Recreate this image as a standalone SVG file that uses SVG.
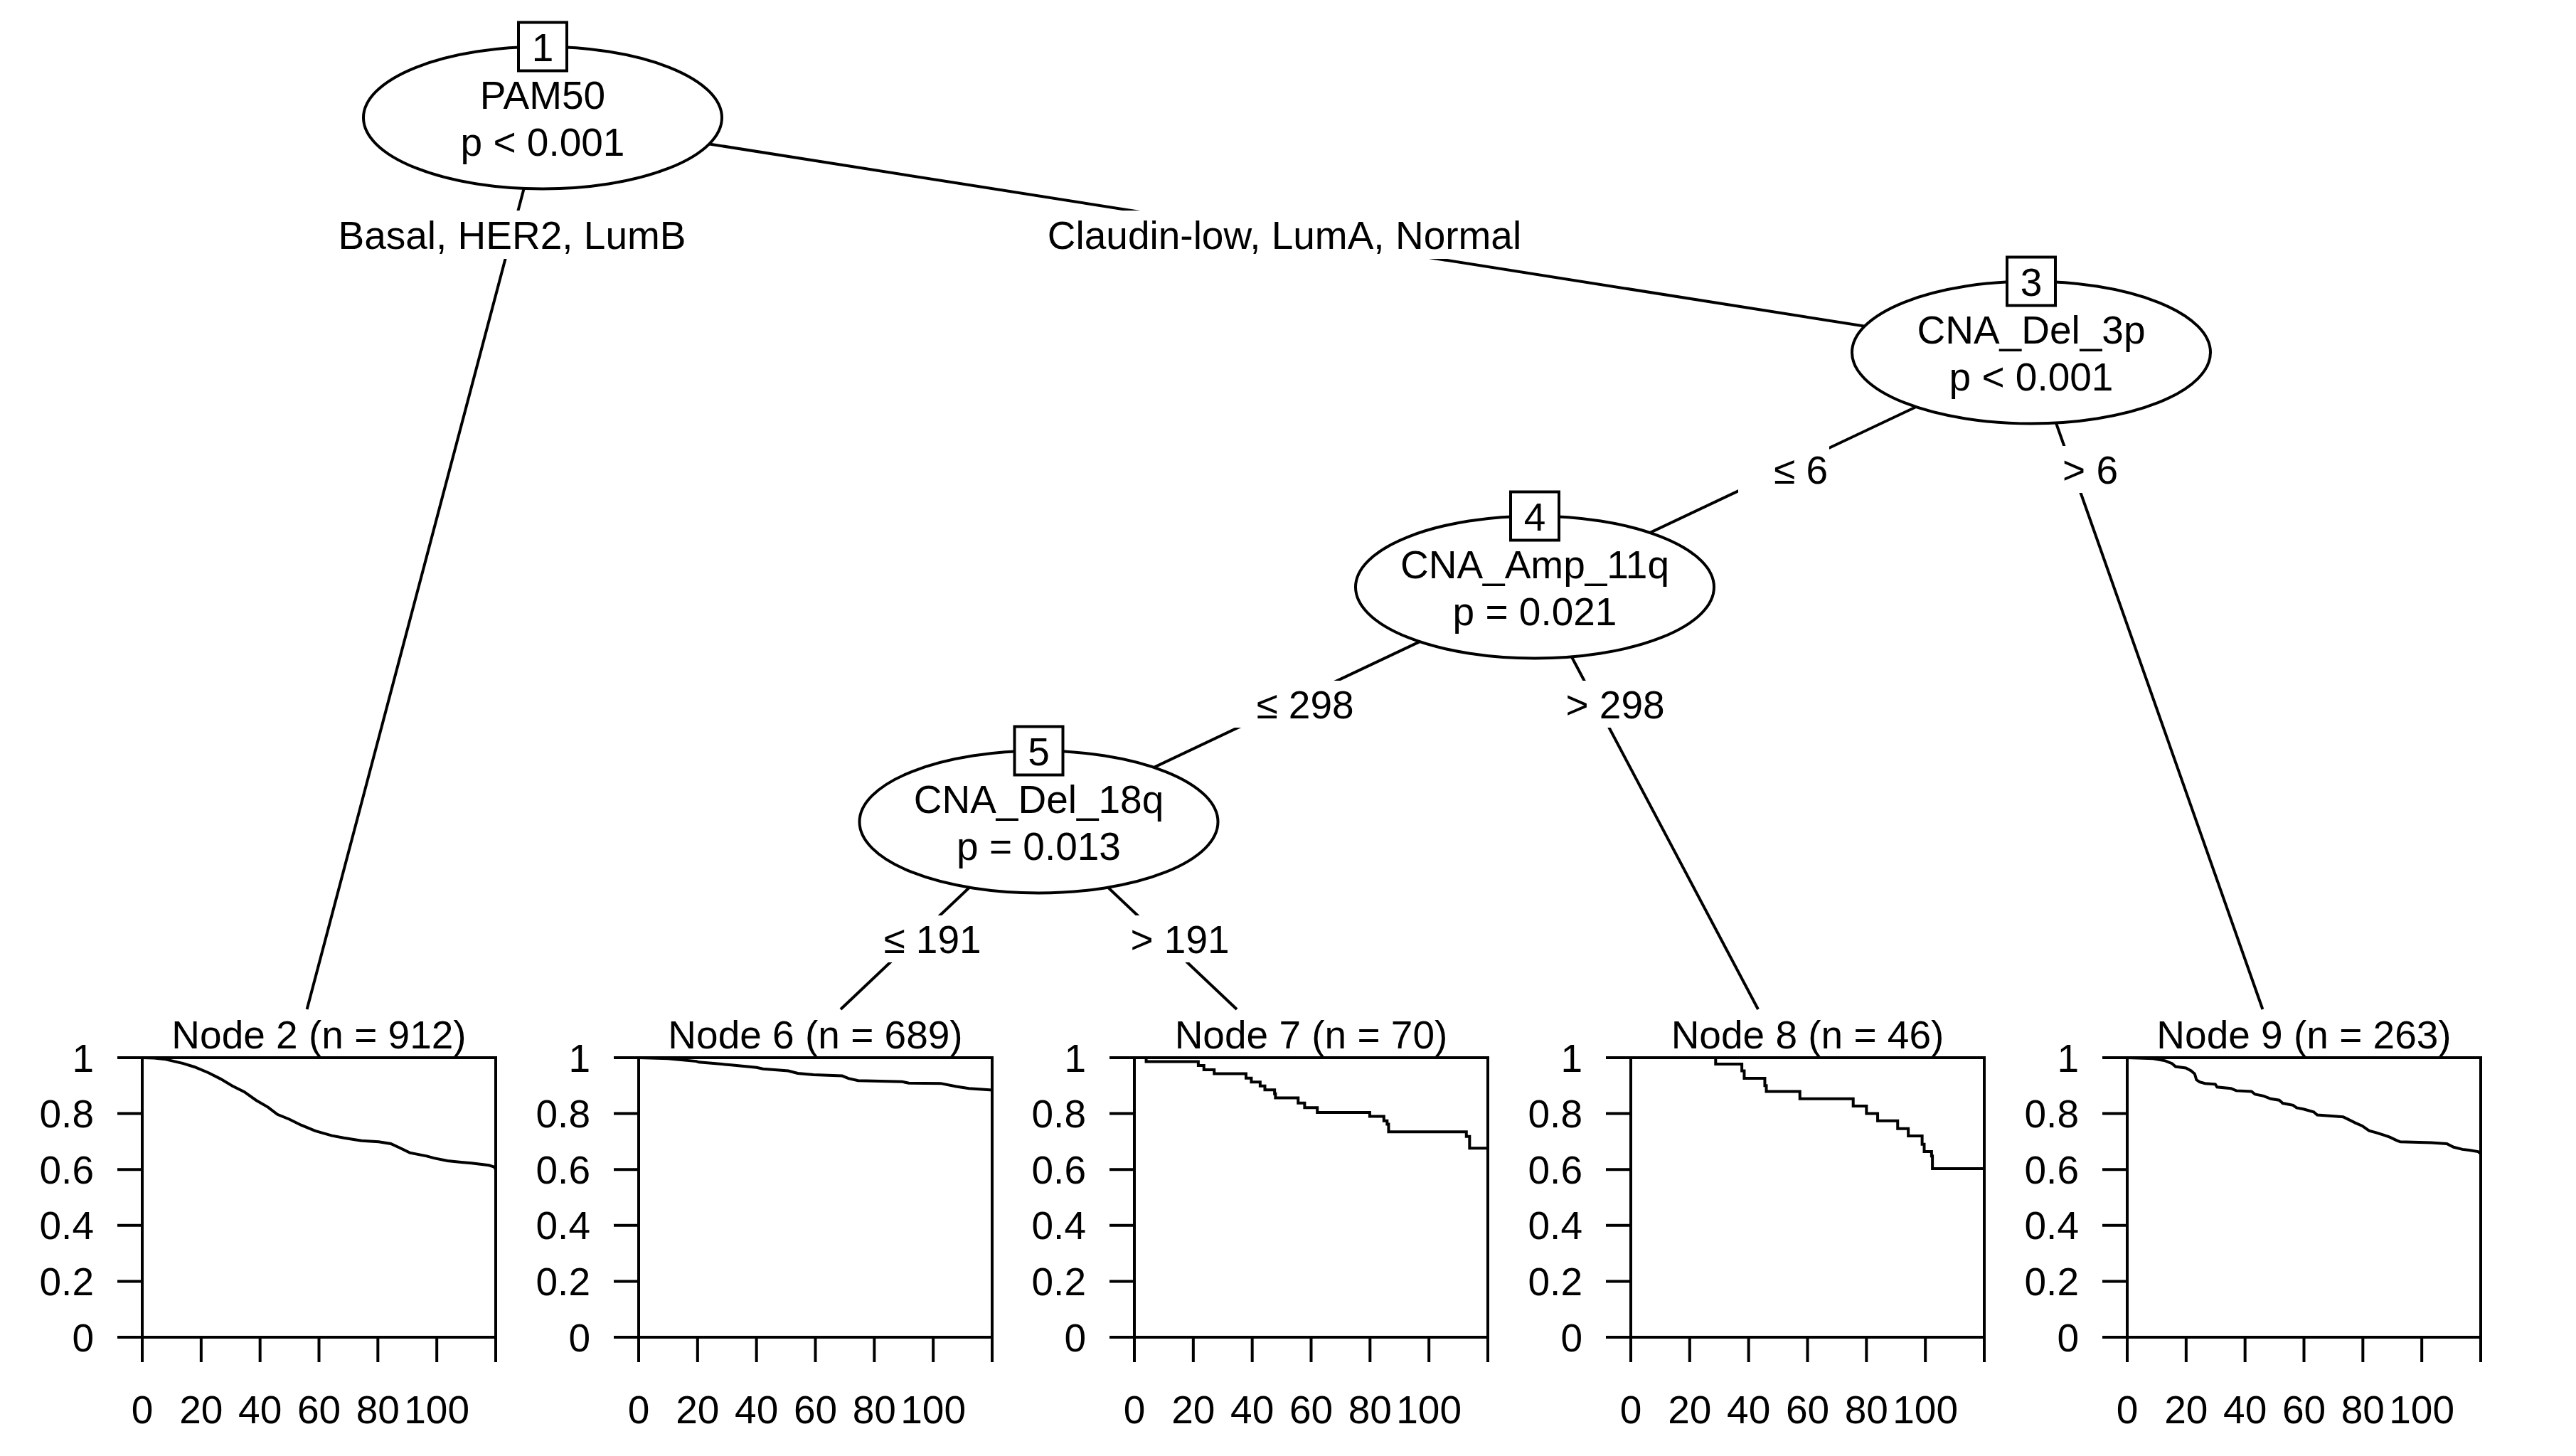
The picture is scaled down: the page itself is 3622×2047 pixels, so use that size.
<svg xmlns="http://www.w3.org/2000/svg" width="3622" height="2047" viewBox="0 0 3622 2047">
<style>
.ln{stroke:#000;stroke-width:4;fill:none}
.nd{stroke:#000;stroke-width:4;fill:#fff}
.lb{fill:#fff;stroke:none}
.t{font-family:"Liberation Sans",Arial,Helvetica,sans-serif;font-size:55px;fill:#000}
.m{text-anchor:middle}
.e{text-anchor:end}
.cv{stroke:#000;stroke-width:4;fill:none;stroke-linejoin:miter}
</style>
<rect width="3622" height="2047" fill="#fff"/>
<g id="connectors" class="ln">
<line x1="763" y1="165.5" x2="431.6" y2="1419"/>
<line x1="763" y1="165.5" x2="2856" y2="495.5"/>
<line x1="2856" y1="495.5" x2="2158" y2="825.5"/>
<line x1="2856" y1="495.5" x2="3181.4" y2="1419"/>
<line x1="2158" y1="825.5" x2="1460.5" y2="1155.5"/>
<line x1="2158" y1="825.5" x2="2472" y2="1419"/>
<line x1="1460.5" y1="1155.5" x2="1182" y2="1419"/>
<line x1="1460.5" y1="1155.5" x2="1739" y2="1419"/>
</g>
<g id="edge-labels">
<rect class="lb" x="475" y="296" width="490" height="68"/>
<text class="t m" x="720" y="349.5">Basal, HER2, LumB</text>
<rect class="lb" x="1471" y="296" width="670" height="68"/>
<text class="t m" x="1806" y="349.5">Claudin-low, LumA, Normal</text>
<rect class="lb" x="2444" y="627" width="128" height="66"/>
<text class="t m" x="2532" y="680">≤ 6</text>
<rect class="lb" x="2850" y="627" width="128" height="66"/>
<text class="t m" x="2939" y="680">&gt; 6</text>
<rect class="lb" x="1716" y="957" width="190" height="66"/>
<text class="t m" x="1835" y="1010">≤ 298</text>
<rect class="lb" x="2150" y="957" width="190" height="66"/>
<text class="t m" x="2271" y="1010">&gt; 298</text>
<rect class="lb" x="1192" y="1287" width="190" height="66"/>
<text class="t m" x="1311" y="1340">≤ 191</text>
<rect class="lb" x="1540" y="1287" width="190" height="66"/>
<text class="t m" x="1659" y="1340">&gt; 191</text>
</g>
<g id="node1">
<ellipse class="nd" cx="763" cy="165.5" rx="252" ry="100"/>
<rect class="nd" x="729" y="31.5" width="68" height="68"/>
<text class="t m" x="763" y="85.5">1</text>
<text class="t m" x="763" y="152.5">PAM50</text>
<text class="t m" x="763" y="219">p &lt; 0.001</text>
</g>
<g id="node3">
<ellipse class="nd" cx="2856" cy="495.5" rx="252" ry="100"/>
<rect class="nd" x="2822" y="361.5" width="68" height="68"/>
<text class="t m" x="2856" y="415.5">3</text>
<text class="t m" x="2856" y="482.5">CNA_Del_3p</text>
<text class="t m" x="2856" y="549">p &lt; 0.001</text>
</g>
<g id="node4">
<ellipse class="nd" cx="2158" cy="825.5" rx="252" ry="100"/>
<rect class="nd" x="2124" y="691.5" width="68" height="68"/>
<text class="t m" x="2158" y="745.5">4</text>
<text class="t m" x="2158" y="812.5">CNA_Amp_11q</text>
<text class="t m" x="2158" y="879">p = 0.021</text>
</g>
<g id="node5">
<ellipse class="nd" cx="1460.5" cy="1155.5" rx="252" ry="100"/>
<rect class="nd" x="1426.5" y="1021.5" width="68" height="68"/>
<text class="t m" x="1460.5" y="1075.5">5</text>
<text class="t m" x="1460.5" y="1142.5">CNA_Del_18q</text>
<text class="t m" x="1460.5" y="1209">p = 0.013</text>
</g>
<defs>
<g id="axes" class="ln">
<rect x="0" y="1487" width="497" height="393"/>
<path d="M-35,1880H0M-35,1801.4H0M-35,1722.8H0M-35,1644.2H0M-35,1565.6H0M-35,1487H0"/>
<path d="M0,1880V1915M82.83,1880V1915M165.67,1880V1915M248.5,1880V1915M331.33,1880V1915M414.17,1880V1915M497,1880V1915"/>
</g>
</defs>
<g id="node2" transform="translate(200,0)">
<use href="#axes"/>
<text class="t m" x="248.5" y="1474">Node 2 (n = 912)</text>
<g class="t e"><text x="-68" y="1506.5">1</text><text x="-68" y="1585.1">0.8</text><text x="-68" y="1663.7">0.6</text><text x="-68" y="1742.3">0.4</text><text x="-68" y="1820.9">0.2</text><text x="-68" y="1899.5">0</text></g>
<g class="t m"><text x="0" y="2001">0</text><text x="82.83" y="2001">20</text><text x="165.67" y="2001">40</text><text x="248.5" y="2001">60</text><text x="331.33" y="2001">80</text><text x="414.17" y="2001">100</text></g>
<polyline class="cv" vector-effect="non-scaling-stroke" transform="translate(0,1880) scale(4.1417,-393)" points="0,1 4,0.999 8,0.994 13.7,0.98 17.7,0.967 22.5,0.946 26.6,0.924 30.6,0.899 34.6,0.878 38.6,0.848 42.7,0.823 45.9,0.797 49.9,0.78 53.9,0.759 58.7,0.738 64.4,0.721 68.4,0.713 74.4,0.703 80.3,0.699 84.4,0.692 87.3,0.678 90.8,0.66 96.6,0.648 99,0.641 103.6,0.631 108.3,0.626 111.8,0.623 117.7,0.615 119.5,0.609 120,0.6"/>
</g>
<g id="node6" transform="translate(898,0)">
<use href="#axes"/>
<text class="t m" x="248.5" y="1474">Node 6 (n = 689)</text>
<g class="t e"><text x="-68" y="1506.5">1</text><text x="-68" y="1585.1">0.8</text><text x="-68" y="1663.7">0.6</text><text x="-68" y="1742.3">0.4</text><text x="-68" y="1820.9">0.2</text><text x="-68" y="1899.5">0</text></g>
<g class="t m"><text x="0" y="2001">0</text><text x="82.83" y="2001">20</text><text x="165.67" y="2001">40</text><text x="248.5" y="2001">60</text><text x="331.33" y="2001">80</text><text x="414.17" y="2001">100</text></g>
<polyline class="cv" vector-effect="non-scaling-stroke" transform="translate(0,1880) scale(4.1417,-393)" points="0,1 9.9,0.997 19.6,0.987 20.5,0.984 31.4,0.974 40,0.965 42.2,0.96 50.8,0.953 54,0.944 59.4,0.939 69.1,0.935 71.2,0.926 74.5,0.918 89.5,0.914 91.7,0.909 102.5,0.908 107.8,0.897 112.1,0.89 120,0.884"/>
</g>
<g id="node7" transform="translate(1595,0)">
<use href="#axes"/>
<text class="t m" x="248.5" y="1474">Node 7 (n = 70)</text>
<g class="t e"><text x="-68" y="1506.5">1</text><text x="-68" y="1585.1">0.8</text><text x="-68" y="1663.7">0.6</text><text x="-68" y="1742.3">0.4</text><text x="-68" y="1820.9">0.2</text><text x="-68" y="1899.5">0</text></g>
<g class="t m"><text x="0" y="2001">0</text><text x="82.83" y="2001">20</text><text x="165.67" y="2001">40</text><text x="248.5" y="2001">60</text><text x="331.33" y="2001">80</text><text x="414.17" y="2001">100</text></g>
<path class="cv" vector-effect="non-scaling-stroke" transform="translate(0,1880) scale(4.1417,-393)" d="M0,1 H4 V0.986 H21.7 V0.972 H23.6 V0.957 H27.1 V0.943 H37.9 V0.927 H39.7 V0.913 H42.7 V0.899 H44.3 V0.885 H47.6 V0.871 H47.9 V0.856 H55.6 V0.838 H57.8 V0.821 H62.1 V0.804 H79.9 V0.79 H84.7 V0.774 H85.8 V0.762 H86.3 V0.735 H112.7 V0.718 H113.8 V0.676 H120"/>
</g>
<g id="node8" transform="translate(2293,0)">
<use href="#axes"/>
<text class="t m" x="248.5" y="1474">Node 8 (n = 46)</text>
<g class="t e"><text x="-68" y="1506.5">1</text><text x="-68" y="1585.1">0.8</text><text x="-68" y="1663.7">0.6</text><text x="-68" y="1742.3">0.4</text><text x="-68" y="1820.9">0.2</text><text x="-68" y="1899.5">0</text></g>
<g class="t m"><text x="0" y="2001">0</text><text x="82.83" y="2001">20</text><text x="165.67" y="2001">40</text><text x="248.5" y="2001">60</text><text x="331.33" y="2001">80</text><text x="414.17" y="2001">100</text></g>
<path class="cv" vector-effect="non-scaling-stroke" transform="translate(0,1880) scale(4.1417,-393)" d="M0,1 H28.8 V0.977 H37.7 V0.953 H38.5 V0.926 H45.5 V0.9 H46 V0.879 H57.4 V0.853 H75.5 V0.827 H80 V0.8 H83.8 V0.774 H90.6 V0.746 H94.2 V0.72 H98.9 V0.69 H99.6 V0.664 H102.1 V0.648 H102.4 V0.603 H120"/>
</g>
<g id="node9" transform="translate(2991,0)">
<use href="#axes"/>
<text class="t m" x="248.5" y="1474">Node 9 (n = 263)</text>
<g class="t e"><text x="-68" y="1506.5">1</text><text x="-68" y="1585.1">0.8</text><text x="-68" y="1663.7">0.6</text><text x="-68" y="1742.3">0.4</text><text x="-68" y="1820.9">0.2</text><text x="-68" y="1899.5">0</text></g>
<g class="t m"><text x="0" y="2001">0</text><text x="82.83" y="2001">20</text><text x="165.67" y="2001">40</text><text x="248.5" y="2001">60</text><text x="331.33" y="2001">80</text><text x="414.17" y="2001">100</text></g>
<polyline class="cv" vector-effect="non-scaling-stroke" transform="translate(0,1880) scale(4.1417,-393)" points="0,1 8.8,0.997 12.9,0.989 15.2,0.979 16.4,0.968 19.9,0.963 21.7,0.953 22.9,0.942 23.5,0.921 24.6,0.913 26.4,0.908 29.9,0.905 30.5,0.895 35.2,0.89 37,0.882 42.2,0.879 43.4,0.869 46.3,0.863 48.7,0.853 51.6,0.848 52.8,0.837 56.3,0.83 57.5,0.821 59.8,0.816 63.3,0.806 64.5,0.795 68.6,0.792 73.3,0.788 75.1,0.779 77.4,0.767 79.8,0.756 82.1,0.739 84.5,0.732 86.8,0.724 89.1,0.716 91.5,0.704 92.7,0.699 103.2,0.696 108.5,0.692 110.8,0.68 113.8,0.672 116.1,0.669 119.1,0.664 120,0.657"/>
</g>
</svg>
